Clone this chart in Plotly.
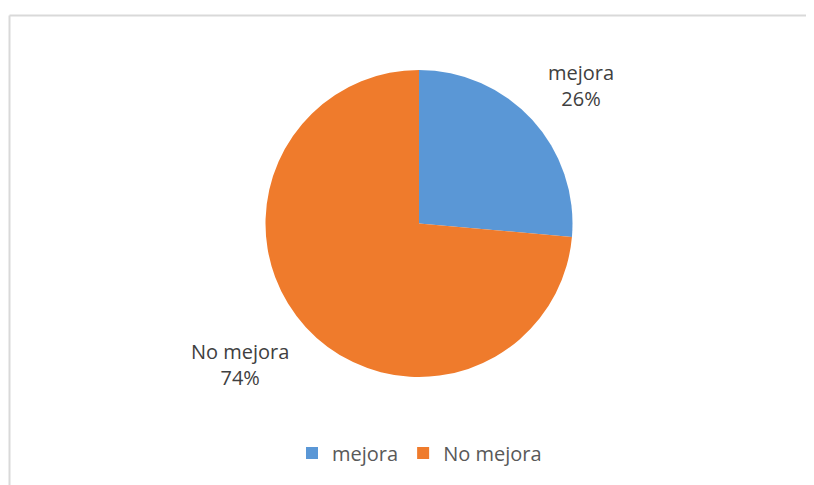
import plotly.graph_objects as go

labels = ["mejora", "No mejora"]
values = [26.4, 73.6]
colors = ["#5A97D6", "#EF7B2C"]

# page body has an 8px margin; work in figure coordinates (screen - 8)
OFF = 8
W, H = 806, 477
cx, cy, r = 419 - OFF, 223.5 - OFF, 153.5

fig = go.Figure(go.Pie(
    labels=labels, values=values, sort=False, direction="clockwise", rotation=0,
    marker=dict(colors=colors, line=dict(color="white", width=0)),
    textinfo="none", hoverinfo="label+percent",
    domain=dict(x=[(cx - r) / W, (cx + r) / W], y=[1 - (cy + r) / H, 1 - (cy - r) / H]),
))

label_pos = [(581 - OFF, 86 - OFF), (239.5 - OFF, 364 - OFF)]
total = sum(values)
for lab, v, (px, py) in zip(labels, values, label_pos):
    fig.add_annotation(x=px / W, y=1 - py / H, xref="paper", yref="paper",
                       xanchor="center", yanchor="middle",
                       text=f"{lab}<br>{round(100 * v / total)}%", showarrow=False,
                       font=dict(family="Open Sans", size=20, color="#404040"), align="center")

# chart-area border (top and left visible)
bx, by = (9.5 - OFF) / W, 1 - (15.5 - OFF) / H
fig.add_shape(type="line", xref="paper", yref="paper", x0=bx, x1=1, y0=by, y1=by,
              line=dict(color="#d9d9d9", width=2))
fig.add_shape(type="line", xref="paper", yref="paper", x0=bx, x1=bx, y0=0, y1=by,
              line=dict(color="#d9d9d9", width=2))

fig.update_layout(
    width=W, height=H, margin=dict(l=0, r=0, t=0, b=0),
    paper_bgcolor="white", plot_bgcolor="white",
    showlegend=True,
    legend=dict(orientation="h", x=(419.5 - OFF) / W, xanchor="center",
                y=1 - (453 - OFF) / H, yanchor="middle",
                font=dict(family="Open Sans", size=20, color="#595959")),
)
fig.write_html("out.html")
